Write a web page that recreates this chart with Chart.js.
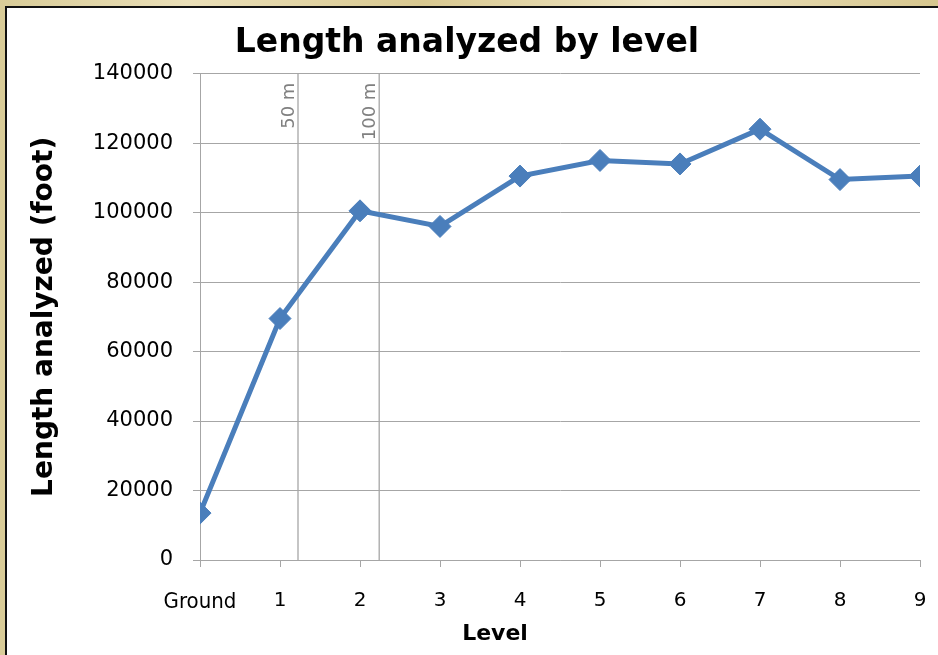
<!DOCTYPE html>
<html>
<head>
<meta charset="utf-8">
<script src="https://cdn.jsdelivr.net/npm/chart.js@4/dist/chart.umd.min.js"></script>
<style>
  html, body { margin: 0; padding: 0; width: 938px; height: 655px; overflow: hidden;
    background: linear-gradient(90deg, #d9cc98 0%, #eadfb8 20%, #d8c890 45%, #eee4c2 70%, #d6c68e 100%); }
  #panel { position: absolute; left: 5px; top: 6px; width: 940px; height: 660px;
    background: #ffffff; border-left: 2px solid #111; border-top: 2px solid #111; }
  #wrap { position: absolute; left: 0; top: 0; width: 938px; height: 655px; }
</style>
</head>
<body>
<div id="panel"></div>
<div id="wrap"><canvas id="c" width="938" height="655"></canvas></div>
<script>
// ---- data ----
const categories = ['Ground', '1', '2', '3', '4', '5', '6', '7', '8', '9'];
const lengthValues = [13500, 69500, 100500, 96000, 110500, 115000, 114000, 124000, 109500, 110500];
const yTickValues = [0, 20000, 40000, 60000, 80000, 100000, 120000, 140000];
const refLinePositions = [1.225, 2.24];
const refLineLabels = ['50 m', '100 m'];

const chartTitle = 'Length analyzed by level';
const xAxisTitle = 'Level';
const yAxisTitle = 'Length analyzed (foot)';

const lineColor = '#4a7ebb';
const gridColor = '#a6a6a6';

const seriesData = lengthValues.map((v, i) => ({ x: i, y: v }));
const refDatasets = refLinePositions.map(p => ({
  data: [{ x: p, y: yTickValues[0] }, { x: p, y: yTickValues[yTickValues.length - 1] }],
  borderColor: gridColor,
  borderWidth: 1.3,
  pointRadius: 0,
  fill: false,
  order: 2
}));

const overlayPlugin = {
  id: 'overlay',
  afterDraw(chart) {
    const { ctx, scales: { x, y } } = chart;
    ctx.save();
    ctx.fillStyle = '#808080';
    ctx.font = '18px "DejaVu Sans"';
    ctx.textAlign = 'right';
    ctx.textBaseline = 'bottom';
    refLinePositions.forEach((p, i) => {
      const px = x.getPixelForValue(p);
      const py = y.getPixelForValue(yTickValues[yTickValues.length - 1]);
      ctx.save();
      ctx.translate(px, py + 9);
      ctx.rotate(-Math.PI / 2);
      ctx.fillText(refLineLabels[i], 0, 0);
      ctx.restore();
    });
    ctx.fillStyle = '#000';
    ctx.font = 'bold 22px "DejaVu Sans"';
    ctx.textAlign = 'center';
    ctx.textBaseline = 'middle';
    ctx.fillText(xAxisTitle, 495, 634);
    ctx.restore();
  }
};

new Chart(document.getElementById('c'), {
  type: 'line',
  data: {
    datasets: [{
      data: seriesData,
      borderColor: lineColor,
      backgroundColor: lineColor,
      borderWidth: 5,
      pointStyle: 'rectRot',
      pointRadius: 11,
      pointBorderWidth: 1,
      pointBorderColor: lineColor,
      pointBackgroundColor: lineColor,
      fill: false,
      order: 1
    }, ...refDatasets]
  },
  options: {
    responsive: false,
    animation: false,
    layout: { padding: { left: 0, right: 4, top: 0, bottom: 0 } },
    plugins: {
      legend: { display: false },
      tooltip: { enabled: false },
      title: {
        display: true,
        text: chartTitle,
        color: '#000',
        font: { family: '"DejaVu Sans"', size: 33, weight: 'bold', lineHeight: 1.2 },
        padding: { top: 24, bottom: 10 }
      }
    },
    scales: {
      x: {
        type: 'linear',
        min: 0,
        max: categories.length - 1,
        afterFit: s => { s.height = 95; s.paddingLeft = 0; s.paddingRight = 18; },
        afterBuildTicks: s => { s.ticks = categories.map((c, i) => ({ value: i })); },
        ticks: {
          autoSkip: false,
          maxRotation: 0,
          padding: 22,
          color: '#000',
          font: ctx => (ctx.index === 0
            ? { family: '"DejaVu Sans Condensed"', size: 22 }
            : { family: '"DejaVu Sans"', size: 20 }),
          callback: (v, i) => categories[i]
        },
        grid: { drawOnChartArea: false, drawTicks: true, tickLength: 7, color: gridColor },
        border: { display: true, color: gridColor, width: 1 }
      },
      y: {
        min: 0,
        max: 140000,
        afterFit: s => { s.width = 200; },
        afterBuildTicks: s => { s.ticks = yTickValues.map(v => ({ value: v })); },
        ticks: {
          padding: 20,
          color: '#000',
          font: { family: '"DejaVu Sans"', size: 21 },
          callback: v => String(v)
        },
        grid: { color: gridColor, tickLength: 7, lineWidth: 1 },
        border: { display: true, color: gridColor, width: 1 },
        title: {
          display: true,
          text: yAxisTitle,
          color: '#000',
          font: { family: '"DejaVu Sans"', size: 28, weight: 'bold', lineHeight: 1.2 },
          padding: { top: 28, bottom: 0 }
        }
      }
    }
  },
  plugins: [overlayPlugin]
});
</script>
</body>
</html>
